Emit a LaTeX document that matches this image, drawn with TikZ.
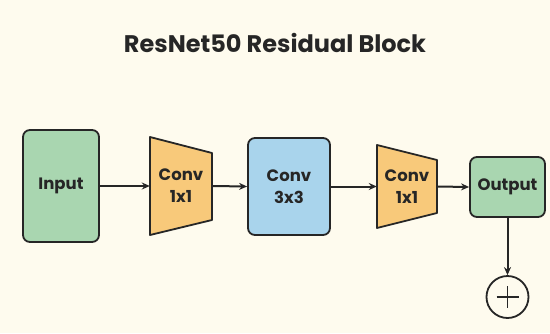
\documentclass[tikz,border=0pt]{standalone}
\usepackage{fontspec}
\setmainfont{Poppins}
\usetikzlibrary{arrows.meta}
\definecolor{paper}{HTML}{FEFBEE}
\definecolor{edge}{HTML}{262626}
\definecolor{ingreen}{HTML}{A9D6B0}
\definecolor{convorange}{HTML}{F8C97A}
\definecolor{convblue}{HTML}{A9D4EC}
\tikzset{
  box/.style={draw=edge, line width=1.8pt, rounded corners=7pt, inner sep=0pt,
    align=center, font=\bfseries\fontsize{16.5}{22}\selectfont, text=edge},
  lbl/.style={inner sep=0pt, minimum height=60pt, align=center,
    font=\bfseries\fontsize{16.5}{22}\selectfont, text=edge},
  conv/.style={fill=convorange, draw=edge, line width=1.8pt, line join=round},
  link/.style={draw=edge, line width=2pt, -{Stealth[length=8pt,width=7pt]}},
}
\begin{document}
\begin{tikzpicture}[x=1pt,y=-1pt]
  \fill[paper] (0,0) rectangle (550,333);
  \useasboundingbox (0,0) rectangle (550,333);

  \node[text=edge, font=\bfseries\fontsize{24}{28}\selectfont] (title) at (275,43) {ResNet50 Residual Block};

  % input, bottleneck convs, output
  \node[box, fill=ingreen, minimum width=76pt, minimum height=112pt] (in) at (61,186) {Input};

  \draw[conv] (150,137) -- (212,153) -- (212,220) -- (150,235) -- cycle;
  \node[lbl, minimum width=62pt] (c1) at (181,186) {Conv\\1x1};

  \node[box, fill=convblue, minimum width=82pt, minimum height=97pt] (c3) at (289,186.5) {Conv\\3x3};

  \draw[conv] (377,145) -- (437,160) -- (437,213) -- (377,228) -- cycle;
  \node[lbl, minimum width=60pt] (c2) at (407,186.5) {Conv\\1x1};

  \node[box, fill=ingreen, minimum width=75pt, minimum height=60pt] (out) at (507.5,187) {Output};

  % residual add
  \node[draw=edge, line width=1.8pt, circle, minimum size=42pt] (plus) at (507.5,297) {};
  \draw[edge, line width=1.8pt] (plus.center) ++(-11,0) -- ++(22,0);
  \draw[edge, line width=1.8pt] (plus.center) ++(0,-11) -- ++(0,22);

  \draw[link] (in.east) -- (c1.west);
  \draw[link] (c1.east) -- (c3.west);
  \draw[link] (c3.east) -- (c2.west);
  \draw[link] (c2.east) -- (out.west);
  \draw[link] (out.south) -- (plus.north);
\end{tikzpicture}
\end{document}
